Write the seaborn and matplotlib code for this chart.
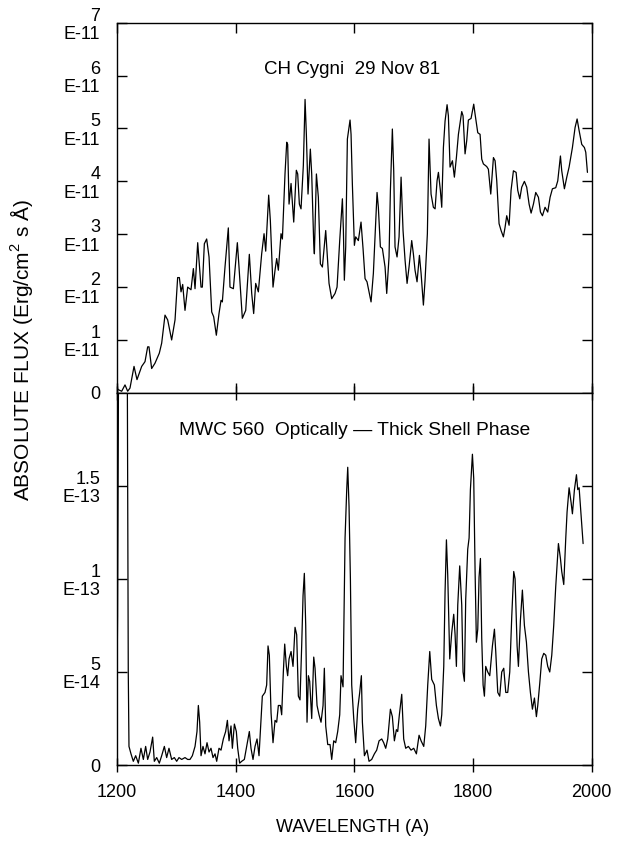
import numpy as np
import pandas as pd
import matplotlib
matplotlib.use("Agg")
import matplotlib.pyplot as plt
import seaborn as sns

sns.set_style("ticks")
plt.rcParams['font.family'] = ['Liberation Sans', 'DejaVu Sans']
plt.rcParams['mathtext.fontset'] = 'custom'
plt.rcParams['mathtext.rm'] = 'Liberation Sans'
for key in ['text.color', 'axes.labelcolor', 'xtick.color', 'ytick.color']:
    plt.rcParams[key] = 'black'

# CH Cygni 29 Nov 81, flux in units of 1E-11 erg/cm2/s/A
wl_cyg = [1200, 1202.2, 1207.9, 1213.5, 1218, 1221.9, 1228.7, 1233.7, 1241.6, 1247.2,
          1251.7, 1253.9, 1258.4, 1264.0, 1271.3, 1275.3, 1280.9, 1285.4, 1292.1, 1297.8,
          1302.2, 1305.1, 1307.9, 1310.7, 1314.6, 1319.1, 1324.7, 1328.7, 1331.5, 1336.0,
          1338.2, 1341.6, 1343.8, 1347.2, 1351.1, 1355.1, 1359.6, 1362.9, 1367.4, 1371.9,
          1375.3, 1377.5, 1382.0, 1387.6, 1390.4, 1396.1, 1402.8, 1405.6, 1411.2, 1416.9,
          1423.0, 1427.0, 1430.3, 1433.7, 1438.2, 1443.8, 1447.8, 1450.6, 1455.6, 1458.4,
          1462.9, 1466.3, 1469.1, 1471.9, 1476.4, 1478.7, 1483.1, 1486.0, 1487.6, 1489.9,
          1493.3, 1497.8, 1502.2, 1504.5, 1507.3, 1510.1, 1514.0, 1516.9, 1519.1, 1521.9,
          1525.8, 1528.1, 1531.5, 1532.6, 1536.0, 1539.3, 1542.7, 1546.1, 1551.7, 1554.0,
          1557.3, 1561.8, 1567.4, 1570.8, 1575.3, 1579.8, 1581.5, 1583.1, 1585.4, 1588.2,
          1592.7, 1594.4, 1596.6, 1600.0, 1602.2, 1606.7, 1611.2, 1614.6, 1618.0, 1621.3,
          1628.1, 1632.0, 1638.2, 1640.4, 1643.8, 1647.2, 1651.7, 1654.5, 1658.4, 1660.7,
          1664.0, 1666.3, 1668.5, 1671.9, 1675.3, 1678.7, 1682.0, 1685.4, 1688.8, 1692.1,
          1696.6, 1699.4, 1702.2, 1705.6, 1709.6, 1712.4, 1716.3, 1719.1, 1723.0, 1725.8,
          1729.2, 1733.1, 1736.0, 1739.3, 1741.6, 1744.9, 1747.2, 1750.0, 1752.8, 1756.2,
          1758.4, 1761.2, 1765.2, 1768.5, 1771.9, 1775.3, 1780.9, 1783.1, 1786.5, 1789.3,
          1792.1, 1796.6, 1801.1, 1803.4, 1807.9, 1811.8, 1814.6, 1817.4, 1823.0, 1825.8,
          1829.8, 1834.3, 1837.1, 1839.9, 1843.8, 1847.2, 1851.1, 1853.9, 1856.7, 1860.7,
          1864.0, 1868.0, 1872.5, 1875.3, 1878.7, 1882.0, 1886.5, 1890.4, 1894.4, 1897.8,
          1901.7, 1905.6, 1910.1, 1913.5, 1916.9, 1921.3, 1925.8, 1929.8, 1933.7, 1939.3,
          1942.7, 1947.2, 1949.4, 1953.9, 1957.9, 1961.8, 1967.4, 1971.9, 1975.3, 1978.7,
          1983.1, 1987.6, 1989.9, 1992.7]
flux_cyg = [0.09, 0.06, 0.03, 0.15, 0.03, 0.09, 0.50, 0.25, 0.50, 0.59,
            0.87, 0.87, 0.46, 0.56, 0.75, 0.94, 1.47, 1.38, 1.00, 1.38,
            2.18, 2.18, 1.91, 2.05, 1.56, 2.00, 1.95, 2.35, 1.97, 2.84,
            2.51, 2.00, 2.00, 2.82, 2.91, 2.57, 1.53, 1.44, 1.09, 1.50,
            1.75, 1.72, 2.38, 3.12, 2.00, 1.97, 2.84, 2.38, 1.41, 1.56,
            2.62, 1.88, 1.50, 2.07, 1.91, 2.63, 3.01, 2.68, 3.74, 3.26,
            2.00, 2.32, 2.54, 2.32, 3.01, 2.91, 4.14, 4.74, 4.70, 3.57,
            3.96, 3.23, 4.21, 4.14, 3.57, 3.48, 4.30, 5.55, 4.89, 3.76,
            4.61, 4.14, 2.82, 2.63, 4.14, 3.70, 2.44, 2.38, 3.07, 2.66,
            2.07, 1.78, 1.88, 2.00, 2.88, 3.67, 3.07, 2.13, 2.76, 4.80,
            5.16, 4.89, 3.95, 2.79, 2.95, 2.88, 3.23, 2.73, 2.16, 2.10,
            1.72, 2.26, 3.79, 3.51, 2.76, 2.73, 2.38, 1.88, 2.57, 3.83,
            4.99, 4.20, 2.76, 2.57, 2.95, 4.08, 3.07, 2.51, 2.07, 2.38,
            2.88, 2.63, 2.32, 2.10, 2.60, 2.26, 1.66, 2.13, 3.01, 4.80,
            3.76, 3.51, 3.48, 4.01, 4.17, 3.83, 3.51, 4.64, 5.14, 5.45,
            5.24, 4.27, 4.39, 4.08, 4.45, 4.89, 5.32, 5.24, 4.52, 4.77,
            5.16, 5.19, 5.46, 5.27, 4.92, 4.89, 4.42, 4.33, 4.28, 4.23,
            3.76, 4.45, 4.39, 4.01, 3.20, 3.07, 2.95, 3.13, 3.35, 3.17,
            3.83, 4.20, 4.17, 3.83, 3.67, 3.89, 4.00, 3.89, 3.57, 3.40,
            3.57, 3.79, 3.70, 3.42, 3.35, 3.51, 3.42, 3.70, 3.86, 3.88,
            4.01, 4.48, 4.20, 3.86, 4.08, 4.27, 4.64, 5.02, 5.18, 4.96,
            4.70, 4.64, 4.55, 4.17]

# MWC 560, flux in units of 1E-13 erg/cm2/s/A (Ly-alpha runs off scale)
wl_mwc = [1200, 1201, 1203, 1210, 1217, 1219, 1220.2, 1223.6, 1227.5, 1231.5,
          1236.0, 1240.4, 1244.4, 1248.3, 1251.7, 1255.6, 1260.1, 1262.9, 1266.9, 1271.3,
          1275.3, 1279.8, 1283.7, 1287.6, 1292.1, 1296.6, 1300.6, 1304.5, 1309.0, 1314.6,
          1319.1, 1323.0, 1327.0, 1331.5, 1334.8, 1337.1, 1339.3, 1341.6, 1344.9, 1348.3,
          1351.7, 1355.1, 1358.4, 1361.8, 1365.2, 1368.0, 1371.9, 1375.3, 1379.2, 1383.1,
          1386.0, 1388.8, 1392.1, 1394.4, 1397.8, 1401.1, 1403.4, 1406.7, 1410.1, 1414.6,
          1418.0, 1423.0, 1425.8, 1429.2, 1432.6, 1436.0, 1439.3, 1442.1, 1444.9, 1449.4,
          1452.2, 1454.5, 1456.7, 1459.6, 1462.9, 1466.3, 1469.1, 1471.9, 1475.3, 1477.5,
          1480.3, 1482.6, 1485.4, 1487.6, 1489.9, 1493.3, 1496.6, 1500.0, 1502.8, 1505.6,
          1508.4, 1511.2, 1513.5, 1515.7, 1518.0, 1520.2, 1522.5, 1524.7, 1528.1, 1531.5,
          1533.7, 1537.1, 1540.4, 1543.8, 1547.2, 1549.4, 1551.7, 1555.1, 1559.0, 1561.8,
          1565.2, 1568.5, 1571.9, 1575.3, 1577.5, 1580.9, 1584.3, 1587.1, 1588.8, 1591.0,
          1593.3, 1595.5, 1598.9, 1602.2, 1605.6, 1609.0, 1611.8, 1613.5, 1616.9, 1621.3,
          1624.7, 1629.2, 1633.7, 1637.6, 1641.6, 1646.1, 1649.4, 1652.8, 1656.2, 1660.7,
          1664.0, 1667.4, 1670.8, 1673.0, 1675.8, 1679.8, 1683.1, 1686.5, 1691.0, 1695.5,
          1700.0, 1704.5, 1709.0, 1712.4, 1716.9, 1720.2, 1723.6, 1727.0, 1730.3, 1734.8,
          1738.2, 1741.6, 1745.0, 1747.2, 1750.6, 1752.8, 1755.1, 1757.3, 1760.7, 1764.0,
          1767.4, 1769.7, 1771.9, 1774.2, 1777.5, 1780.9, 1783.1, 1785.4, 1787.6, 1791.0,
          1793.3, 1795.5, 1798.9, 1801.1, 1803.4, 1805.6, 1807.9, 1810.1, 1812.4, 1814.6,
          1816.9, 1819.1, 1821.3, 1824.7, 1828.1, 1832.6, 1836.0, 1838.2, 1841.6, 1844.9,
          1848.3, 1851.7, 1855.1, 1858.4, 1861.8, 1865.2, 1868.5, 1870.8, 1874.2, 1876.4,
          1879.8, 1883.1, 1886.5, 1889.9, 1893.3, 1896.6, 1900.0, 1903.4, 1906.7, 1909.0,
          1912.4, 1915.7, 1919.1, 1922.5, 1925.8, 1929.2, 1932.6, 1935.9, 1939.3, 1943.8,
          1947.2, 1949.4, 1952.8, 1956.2, 1958.4, 1961.8, 1965.2, 1967.4, 1970.8, 1974.2,
          1976.4, 1978.7, 1980.9, 1983.1, 1985.4]
flux_mwc = [0.45, 0.80, 2.50, 3.00, 2.50, 0.50, 0.10, 0.06, 0.02, 0.05,
            0.01, 0.09, 0.03, 0.10, 0.03, 0.07, 0.15, 0.02, 0.04, 0.01,
            0.05, 0.10, 0.04, 0.09, 0.03, 0.04, 0.02, 0.04, 0.03, 0.04,
            0.03, 0.03, 0.05, 0.10, 0.18, 0.32, 0.23, 0.05, 0.10, 0.06,
            0.12, 0.07, 0.09, 0.04, 0.06, 0.02, 0.09, 0.08, 0.14, 0.18,
            0.24, 0.13, 0.21, 0.09, 0.22, 0.18, 0.09, 0.01, 0.02, 0.03,
            0.09, 0.18, 0.09, 0.03, 0.10, 0.14, 0.05, 0.21, 0.37, 0.39,
            0.43, 0.64, 0.59, 0.28, 0.12, 0.24, 0.23, 0.32, 0.32, 0.27,
            0.50, 0.65, 0.53, 0.48, 0.57, 0.61, 0.53, 0.74, 0.70, 0.37,
            0.35, 0.64, 0.91, 1.03, 0.75, 0.23, 0.48, 0.45, 0.25, 0.58,
            0.52, 0.32, 0.27, 0.23, 0.32, 0.52, 0.21, 0.11, 0.11, 0.03,
            0.13, 0.12, 0.18, 0.27, 0.48, 0.42, 1.22, 1.48, 1.60, 1.39,
            1.00, 0.43, 0.25, 0.12, 0.30, 0.39, 0.48, 0.23, 0.05, 0.08,
            0.02, 0.03, 0.06, 0.08, 0.13, 0.14, 0.12, 0.09, 0.14, 0.30,
            0.26, 0.13, 0.19, 0.18, 0.27, 0.38, 0.14, 0.09, 0.10, 0.08,
            0.09, 0.06, 0.16, 0.13, 0.10, 0.21, 0.43, 0.61, 0.46, 0.43,
            0.32, 0.25, 0.21, 0.27, 0.53, 0.93, 1.21, 1.02, 0.57, 0.71,
            0.81, 0.70, 0.53, 0.86, 1.07, 0.86, 0.50, 0.45, 0.89, 1.16,
            1.22, 1.48, 1.67, 1.54, 1.04, 0.66, 0.73, 1.01, 1.11, 0.68,
            0.43, 0.37, 0.53, 0.50, 0.48, 0.64, 0.73, 0.61, 0.39, 0.37,
            0.50, 0.52, 0.39, 0.39, 0.50, 0.80, 1.04, 1.00, 0.64, 0.53,
            0.78, 0.94, 0.75, 0.66, 0.50, 0.39, 0.30, 0.36, 0.26, 0.32,
            0.44, 0.57, 0.60, 0.59, 0.53, 0.50, 0.59, 0.75, 0.96, 1.19,
            1.11, 1.04, 0.97, 1.22, 1.36, 1.49, 1.41, 1.35, 1.48, 1.56,
            1.48, 1.49, 1.39, 1.29, 1.19]

cyg_ticks = [0, 1, 2, 3, 4, 5, 6, 7]
cyg_labels = ["0"] + [f"{t}\nE-11" for t in cyg_ticks[1:]]
mwc_ticks = [0, 0.5, 1.0, 1.5]
mwc_labels = ["0", "5\nE-14", "1\nE-13", "1.5\nE-13"]
x_ticks = [1200, 1400, 1600, 1800, 2000]

df_cyg = pd.DataFrame({"wavelength": wl_cyg, "flux": flux_cyg})
df_mwc = pd.DataFrame({"wavelength": wl_mwc, "flux": flux_mwc})

fig = plt.figure(figsize=(6.19, 8.43), dpi=100)
ax1 = fig.add_axes([0.189, 0.534, 0.767, 0.439])
ax2 = fig.add_axes([0.189, 0.0925, 0.767, 0.4415])

for ax, df in [(ax1, df_cyg), (ax2, df_mwc)]:
    sns.lineplot(data=df, x="wavelength", y="flux", ax=ax, color="black",
                 linewidth=0.9, estimator=None, sort=False)
    ax.set_xlim(1200, 2000)
    ax.set_xticks(x_ticks)
    ax.set_xlabel("")
    ax.set_ylabel("")
    for s in ax.spines.values():
        s.set_linewidth(1.0)
        s.set_color("black")
    ax.tick_params(axis="y", direction="in", left=True, right=True, length=7,
                   width=1, labelsize=13, pad=12)

ax1.set_ylim(0, 7)
ax1.set_yticks(cyg_ticks)
ax1.set_yticklabels(cyg_labels, linespacing=1.1, ha="right", multialignment="right")
ax1.tick_params(axis="x", direction="in", top=True, bottom=True, length=7,
                width=1, labelbottom=False)
ax1.text(0.495, 0.873, "CH Cygni  29 Nov 81", transform=ax1.transAxes,
         ha="center", va="center", fontsize=13.5)

ax2.set_ylim(0, 2.0)
ax2.set_yticks(mwc_ticks)
ax2.set_yticklabels(mwc_labels, linespacing=1.1, ha="right", multialignment="right")
ax2.tick_params(axis="x", direction="inout", top=True, bottom=True, length=10,
                width=1, labelsize=13, pad=9)
ax2.text(0.50, 0.90, "MWC 560  Optically \u2014 Thick Shell Phase",
         transform=ax2.transAxes, ha="center", va="center", fontsize=13.8)

fig.text(0.57, 0.018, "WAVELENGTH (A)", ha="center", va="center", fontsize=13)
fig.text(0.035, 0.585, "ABSOLUTE FLUX (Erg/cm$^2$ s \u00c5)", rotation=90,
         ha="center", va="center", fontsize=15)

fig.savefig("out.png", dpi=100)
